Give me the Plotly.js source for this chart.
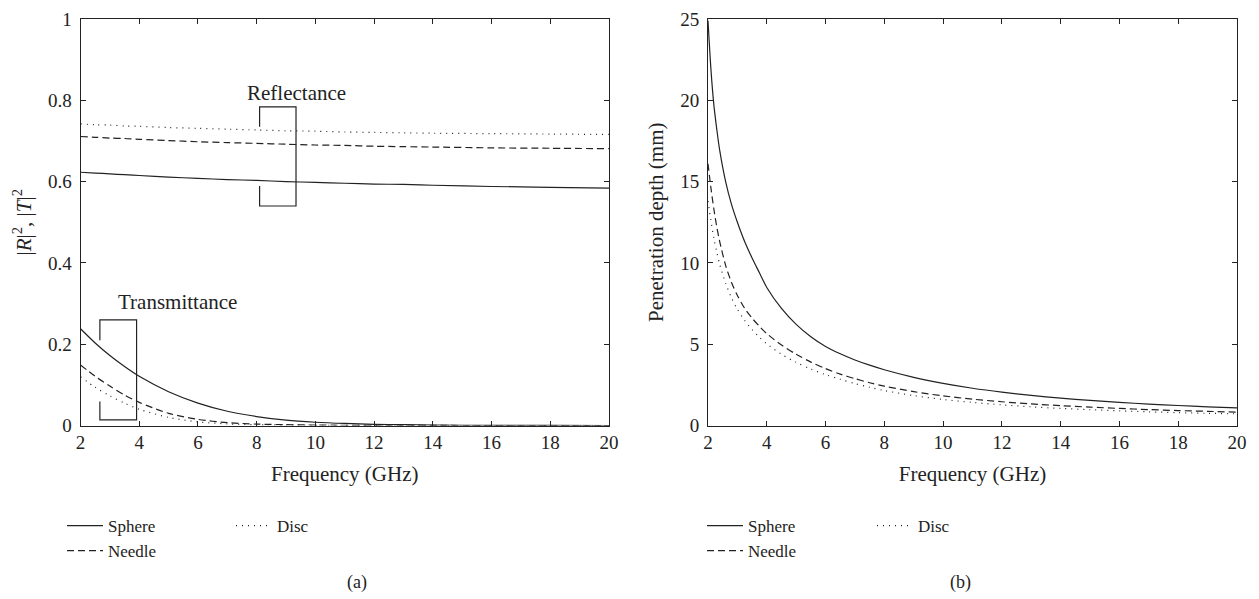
<!DOCTYPE html>
<html>
<head>
<meta charset="utf-8">
<script src="https://cdn.plot.ly/plotly-3.0.1.min.js"></script>
<style>html,body{margin:0;padding:0;background:#fff;}#chart{width:1259px;height:599px;}</style>
</head>
<body>
<div id="chart"></div>
<script>
// ---- Data ----
const freqA = [2, 2.5, 3, 3.5, 4, 5, 6, 7, 8, 9, 10, 11, 12, 13, 14, 16, 18, 20];
const reflSphere = [0.623, 0.621, 0.619, 0.617, 0.615, 0.611, 0.608, 0.605, 0.603, 0.600, 0.598, 0.596, 0.594, 0.593, 0.591, 0.588, 0.586, 0.584];
const reflNeedle = [0.711, 0.709, 0.707, 0.706, 0.704, 0.701, 0.698, 0.696, 0.694, 0.692, 0.690, 0.689, 0.687, 0.686, 0.685, 0.683, 0.682, 0.681];
const reflDisc   = [0.742, 0.740, 0.739, 0.737, 0.736, 0.733, 0.731, 0.729, 0.727, 0.725, 0.724, 0.722, 0.721, 0.720, 0.719, 0.718, 0.717, 0.716];
const transSphere = [0.238, 0.203, 0.172, 0.145, 0.121, 0.083, 0.055, 0.035, 0.022, 0.013, 0.008, 0.005, 0.003, 0.002, 0.001, 0.0004, 0.0001, 0.0];
const transNeedle = [0.149, 0.121, 0.097, 0.075, 0.057, 0.030, 0.015, 0.007, 0.0035, 0.002, 0.001, 0.0006, 0.0003, 0.0002, 0.0001, 0.0, 0.0, 0.0];
const transDisc   = [0.120, 0.094, 0.073, 0.055, 0.040, 0.020, 0.009, 0.004, 0.002, 0.001, 0.0005, 0.0003, 0.0002, 0.0001, 0.0, 0.0, 0.0, 0.0];

const freqB = [2, 2.1, 2.2, 2.3, 2.4, 2.6, 2.8, 3, 3.25, 3.5, 3.75, 4, 4.5, 5, 5.5, 6, 6.5, 7, 7.5, 8, 9, 10, 11, 12, 13, 14, 15, 16, 17, 18, 19, 20];
const depthSphere = [24.9, 21.9, 19.7, 18.2, 16.9, 15.0, 13.6, 12.5, 11.3, 10.3, 9.39, 8.49, 7.2, 6.22, 5.46, 4.86, 4.41, 4.03, 3.71, 3.43, 2.96, 2.59, 2.29, 2.05, 1.85, 1.68, 1.54, 1.42, 1.32, 1.23, 1.15, 1.08];
const depthNeedle = [16.1, 14.6, 13.3, 12.2, 11.3, 9.85, 8.8, 8.0, 7.2, 6.6, 6.1, 5.65, 4.95, 4.38, 3.9, 3.5, 3.16, 2.88, 2.63, 2.42, 2.08, 1.82, 1.62, 1.46, 1.33, 1.22, 1.13, 1.05, 0.98, 0.92, 0.87, 0.82];
const depthDisc   = [13.8, 12.6, 11.5, 10.65, 9.9, 8.75, 7.85, 7.15, 6.45, 5.9, 5.42, 5.02, 4.38, 3.88, 3.47, 3.13, 2.84, 2.58, 2.35, 2.15, 1.84, 1.6, 1.42, 1.27, 1.15, 1.05, 0.97, 0.9, 0.84, 0.79, 0.75, 0.72];

const seriesNames = ['Sphere', 'Needle', 'Disc'];
const xTicks = [2, 4, 6, 8, 10, 12, 14, 16, 18, 20];
const yTicksA = [0, 0.2, 0.4, 0.6, 0.8, 1];
const yTicksB = [0, 5, 10, 15, 20, 25];

// bracket annotations (x, y in data units)
const reflBracketX = [8.1, 9.34];
const reflBracketY = [0.54, 0.589, 0.735, 0.784];
const transBracketX = [2.66, 3.91];
const transBracketY = [0.014, 0.059, 0.21, 0.26];

// ---- Styling ----
const FONT = '"Liberation Serif", "Times New Roman", serif';
const INK = '#222';
const dashes = ['solid', '7px,4px', '1px,5px'];

function tr(x, y, i, xa, ya, leg, show) {
  return {
    x: x, y: y, type: 'scatter', mode: 'lines', name: seriesNames[i],
    xaxis: xa, yaxis: ya, legend: leg, showlegend: show,
    line: {color: INK, width: 1.2, dash: dashes[i], shape: 'spline', smoothing: 0.8},
    hoverinfo: 'skip'
  };
}

const traces = [
  tr(freqA, transSphere, 0, 'x', 'y', 'legend', true),
  tr(freqA, transNeedle, 1, 'x', 'y', 'legend', true),
  tr(freqA, transDisc, 2, 'x', 'y', 'legend2', true),
  tr(freqA, reflSphere, 0, 'x', 'y', 'legend', false),
  tr(freqA, reflNeedle, 1, 'x', 'y', 'legend', false),
  tr(freqA, reflDisc, 2, 'x', 'y', 'legend2', false),
  tr(freqB, depthSphere, 0, 'x2', 'y2', 'legend3', true),
  tr(freqB, depthNeedle, 1, 'x2', 'y2', 'legend3', true),
  tr(freqB, depthDisc, 2, 'x2', 'y2', 'legend4', true)
];

function bracketPath(bx, by) {
  return 'M' + bx[0] + ',' + by[2] + ' L' + bx[0] + ',' + by[3] + ' L' + bx[1] + ',' + by[3] +
         ' L' + bx[1] + ',' + by[0] + ' L' + bx[0] + ',' + by[0] + ' L' + bx[0] + ',' + by[1];
}

const W = 1259, H = 599;
const TICK = 19, TITLE = 21, LEG = 17;
const axisCommon = {
  showgrid: false, zeroline: false, showline: true, linecolor: INK, linewidth: 1,
  mirror: 'allticks', ticks: 'inside', ticklen: 5, tickwidth: 1, tickcolor: INK,
  tickfont: {family: FONT, size: TICK, color: INK}
};
const yTop = 1 - 19 / H, yBot = 1 - 425.5 / H;

function legendAt(px, py) {
  return {x: px / W, y: 1 - py / H, xanchor: 'left', yanchor: 'top',
    font: {family: FONT, size: LEG, color: INK}, bgcolor: 'rgba(0,0,0,0)',
    tracegroupgap: 0, itemwidth: 36, orientation: 'v'};
}
function ttl(t, s) { return {text: t, font: {family: FONT, size: TITLE, color: INK}, standoff: s}; }

const layout = {
  width: W, height: H, paper_bgcolor: '#fff', plot_bgcolor: '#fff',
  margin: {l: 0, r: 0, t: 0, b: 0},
  font: {family: FONT, color: INK, size: 16},
  xaxis: Object.assign({}, axisCommon, {domain: [80.5 / W, 609 / W], range: [2, 20], tickvals: xTicks,
    anchor: 'y', title: ttl('Frequency (GHz)', 14)}),
  yaxis: Object.assign({}, axisCommon, {domain: [yBot, yTop], range: [0, 1], tickvals: yTicksA,
    anchor: 'x', ticklabelstandoff: 4, title: ttl('|<i>R</i>|<sup>2</sup>, |<i>T</i>|<sup>2</sup>', 10)}),
  xaxis2: Object.assign({}, axisCommon, {domain: [708 / W, 1237 / W], range: [2, 20], tickvals: xTicks,
    anchor: 'y2', title: ttl('Frequency (GHz)', 14)}),
  yaxis2: Object.assign({}, axisCommon, {domain: [yBot, yTop], range: [0, 25], tickvals: yTicksB,
    anchor: 'x2', ticklabelstandoff: 4, title: ttl('Penetration depth (mm)', 10)}),
  showlegend: true,
  legend: legendAt(62, 508),
  legend2: legendAt(231, 508),
  legend3: legendAt(702, 508),
  legend4: legendAt(872, 508),
  shapes: [
    {type: 'path', xref: 'x', yref: 'y', path: bracketPath(reflBracketX, reflBracketY), line: {color: INK, width: 1.2}},
    {type: 'path', xref: 'x', yref: 'y', path: bracketPath(transBracketX, transBracketY), line: {color: INK, width: 1.2}}
  ],
  annotations: [
    {xref: 'x', yref: 'y', x: 9.37, y: 0.818, text: 'Reflectance', showarrow: false, font: {family: FONT, size: TITLE, color: INK}},
    {xref: 'x', yref: 'y', x: 5.32, y: 0.303, text: 'Transmittance', showarrow: false, font: {family: FONT, size: TITLE, color: INK}},
    {xref: 'paper', yref: 'paper', x: 345 / W, y: 1 - 582 / H, yanchor: 'middle', text: '(a)', showarrow: false, font: {family: FONT, size: 18, color: INK}},
    {xref: 'paper', yref: 'paper', x: 973 / W, y: 1 - 582 / H, yanchor: 'middle', text: '(b)', showarrow: false, font: {family: FONT, size: 18, color: INK}}
  ]
};

Plotly.newPlot('chart', traces, layout, {displayModeBar: false, staticPlot: true});
</script>
</body>
</html>
